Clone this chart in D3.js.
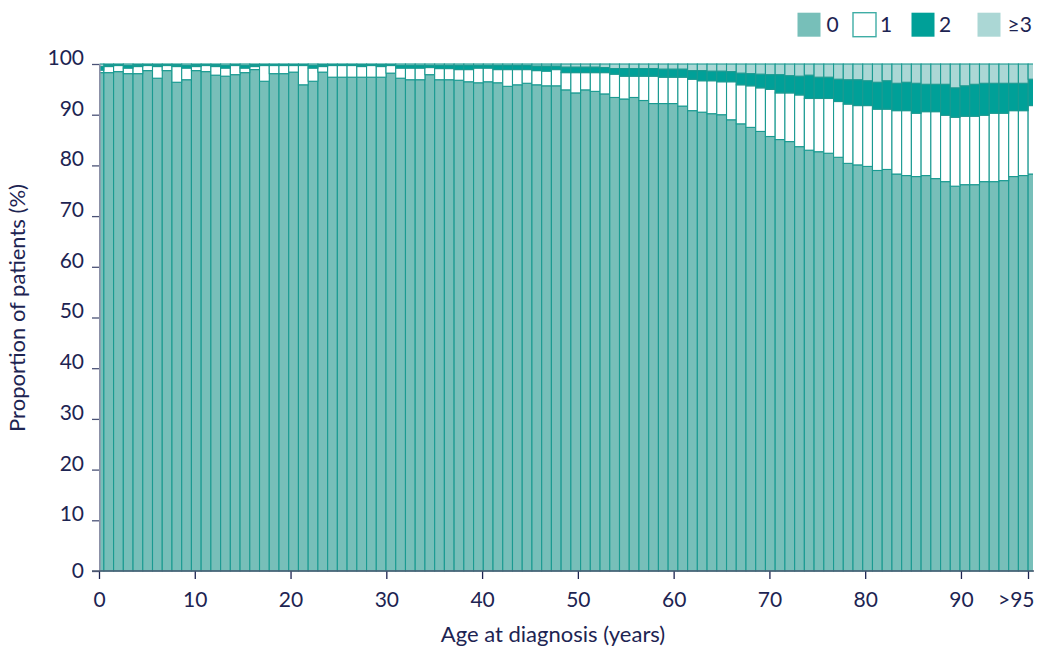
<!DOCTYPE html>
<html>
<head>
<meta charset="utf-8">
<script src="https://cdn.jsdelivr.net/npm/d3@7"></script>
<style>
  html, body { margin: 0; padding: 0; background: #ffffff; }
  svg { display: block; }
  text { font-family: "Lato", "Open Sans", sans-serif; fill: #1d2452; }
</style>
</head>
<body>
<svg id="chart" width="1047" height="647"></svg>
<script>
// ---------- data ----------
const categories = ["0","1","2","3","4","5","6","7","8","9",
  "10","11","12","13","14","15","16","17","18","19",
  "20","21","22","23","24","25","26","27","28","29",
  "30","31","32","33","34","35","36","37","38","39",
  "40","41","42","43","44","45","46","47","48","49",
  "50","51","52","53","54","55","56","57","58","59",
  "60","61","62","63","64","65","66","67","68","69",
  "70","71","72","73","74","75","76","77","78","79",
  "80","81","82","83","84","85","86","87","88","89",
  "90","91","92","93","94","95",">95"];

const seriesKeys = ["0", "1", "2", "≥3"];

const s0 = [98.3,98.3,98.5,98.1,98.1,98.7,97.2,98.7,96.4,96.9,
  98.7,98.5,97.8,97.6,97.9,98.3,98.9,96.6,98.1,98.1,
  98.4,95.9,96.6,98.4,97.4,97.4,97.4,97.4,97.4,97.4,
  98.2,97.2,96.9,96.9,97.9,96.9,96.9,96.8,96.5,96.3,
  96.5,96.3,95.6,95.9,96.2,95.9,95.7,95.7,94.9,94.3,
  94.9,94.6,94.1,93.4,93.1,93.4,92.8,92.2,92.2,92.2,
  91.7,90.8,90.5,90.2,90.0,89.0,88.2,87.5,86.7,85.7,
  85.1,84.7,83.7,83.0,82.7,82.4,81.6,80.4,80.1,79.8,
  79.0,79.2,78.3,78.0,77.8,78.0,77.4,76.8,75.9,76.2,
  76.2,76.8,76.8,77.0,77.8,78.0,78.3];

const s1 = [0.5,1.2,1.2,1.1,1.4,1.0,2.3,1.0,3.1,2.3,
  0.8,1.2,1.7,1.6,1.8,0.9,0.6,3.1,1.6,1.6,
  1.3,3.8,2.6,1.1,2.3,2.3,2.3,2.1,2.3,2.1,
  1.5,2.0,2.3,2.3,1.4,2.2,2.2,2.1,2.4,2.9,
  2.7,2.6,3.3,3.0,2.7,2.8,2.9,3.2,3.4,4.0,
  3.4,3.7,4.2,4.6,4.5,4.2,4.8,5.4,5.2,5.2,
  5.7,6.2,6.2,6.5,6.5,7.5,7.7,8.2,8.6,9.3,
  9.2,9.6,10.2,10.2,10.5,10.8,11.0,11.7,11.7,12.0,
  12.1,11.9,12.5,12.8,12.5,12.6,13.2,13.1,13.6,13.5,
  13.5,13.1,13.5,13.3,13.0,12.8,13.5];

const s2 = [0.7,0.3,0.2,0.5,0.3,0.2,0.3,0.2,0.3,0.5,
  0.3,0.2,0.3,0.5,0.2,0.5,0.3,0.2,0.2,0.2,
  0.2,0.2,0.5,0.3,0.2,0.2,0.2,0.3,0.2,0.3,
  0.2,0.5,0.5,0.5,0.4,0.6,0.6,0.8,0.8,0.5,
  0.5,0.8,0.8,0.8,0.8,0.9,1.0,0.7,1.1,1.1,
  1.1,1.1,1.0,1.1,1.5,1.5,1.5,1.5,1.6,1.6,
  1.6,1.7,2.0,1.9,2.1,2.0,2.3,2.4,2.7,2.9,
  3.6,3.4,3.7,4.6,4.2,4.2,4.4,4.8,5.1,4.9,
  5.3,5.6,5.4,5.6,5.9,5.4,5.4,6.1,5.8,6.0,
  6.3,6.3,5.9,5.9,5.4,5.4,5.2];

const s3 = [0.5,0.2,0.1,0.3,0.2,0.1,0.2,0.1,0.2,0.3,
  0.2,0.1,0.2,0.3,0.1,0.3,0.2,0.1,0.1,0.1,
  0.1,0.1,0.3,0.2,0.1,0.1,0.1,0.2,0.1,0.2,
  0.1,0.3,0.3,0.3,0.3,0.3,0.3,0.3,0.3,0.3,
  0.3,0.3,0.3,0.3,0.3,0.4,0.4,0.4,0.6,0.6,
  0.6,0.6,0.7,0.9,0.9,0.9,0.9,0.9,1.0,1.0,
  1.0,1.3,1.3,1.4,1.4,1.5,1.8,1.9,2.0,2.1,
  2.1,2.3,2.4,2.2,2.6,2.6,3.0,3.1,3.1,3.3,
  3.6,3.3,3.8,3.6,3.8,4.0,4.0,4.0,4.7,4.3,
  4.0,3.8,3.8,3.8,3.8,3.8,3.0];

const yTickValues = [0,10,20,30,40,50,60,70,80,90,100];
const xTickValues = [0,10,20,30,40,50,60,70,80,90,97];
const xTickLabels = ["0","10","20","30","40","50","60","70","80","90",">95"];

// ---------- styles ----------
const fills = {"0": "#77bfb9", "1": "#ffffff", "2": "#00a098", "≥3": "#abd7d5"};
const barStroke = "#1a9a91";

// ---------- build ----------
const svg = d3.select("#chart");
const plotLeft = 99.5, plotRight = 1033, plotTop = 64, plotBottom = 571;

const table = categories.map((c, i) => ({cat: c, "0": s0[i], "1": s1[i], "2": s2[i], "≥3": s3[i]}));
const stacked = d3.stack().keys(seriesKeys)(table);

const x = d3.scalePoint().domain(categories).range([99, 1033]);
const bw = x.step();
const xTick = d3.scaleLinear().domain([0, 97]).range([99, 1028]);
const y = d3.scaleLinear().domain([0, 100]).range([plotBottom, plotTop]);

svg.append("defs").append("clipPath").attr("id", "plotclip")
  .append("rect").attr("x", plotLeft).attr("y", 0).attr("width", plotRight - plotLeft).attr("height", 647);

const gBars = svg.append("g").attr("clip-path", "url(#plotclip)");
gBars.selectAll("g.series").data(stacked).join("g")
  .attr("class", "series")
  .attr("fill", d => fills[d.key])
  .selectAll("rect").data(d => d).join("rect")
  .attr("x", d => x(d.data.cat) - bw / 2)
  .attr("width", bw)
  .attr("y", d => y(d[1]))
  .attr("height", d => y(d[0]) - y(d[1]))
  .attr("stroke", barStroke)
  .attr("stroke-width", 1.1);

// y axis
const yAxis = svg.append("g").attr("transform", `translate(99,0)`)
  .call(d3.axisLeft(y).tickValues(yTickValues).tickSize(7).tickPadding(8).tickFormat(d3.format("d")));
yAxis.select(".domain").remove();
yAxis.selectAll(".tick line").attr("stroke", "#4a5276").attr("stroke-width", 1.3);
yAxis.selectAll(".tick text")
  .attr("dy", d => d === 0 ? "0.32em" : "0.02em")
  .style("font-size", "21px").style("font-family", "Lato").attr("fill", "#1d2452");
svg.append("line").attr("x1", 99.8).attr("x2", 99.8).attr("y1", plotTop).attr("y2", plotBottom)
  .attr("stroke", "#8b90a7").attr("stroke-width", 1.6);

// x axis
const xAxis = svg.append("g").attr("transform", `translate(0,${plotBottom})`)
  .call(d3.axisBottom(xTick).tickValues(xTickValues).tickSize(8).tickPadding(13)
    .tickFormat((d, i) => xTickLabels[i]));
xAxis.select(".domain").remove();
xAxis.selectAll(".tick line").attr("stroke", "#1d2452").attr("stroke-width", 1.3);
xAxis.selectAll(".tick text")
  .style("font-size", "21px").style("font-family", "Lato").attr("fill", "#1d2452")
  .filter(d => d === 97).attr("text-anchor", "end").attr("dx", 6);
svg.append("line").attr("x1", 92).attr("x2", 1034).attr("y1", plotBottom).attr("y2", plotBottom)
  .attr("stroke", "#4e5a72").attr("stroke-width", 1.6);

// axis titles
svg.append("text").attr("transform", "translate(25,308) rotate(-90)")
  .attr("text-anchor", "middle").style("font-size", "22px")
  .text("Proportion of patients (%)");
svg.append("text").attr("x", 553).attr("y", 642)
  .attr("text-anchor", "middle").style("font-size", "22px")
  .text("Age at diagnosis (years)");

// legend
const legendPos = [{key: "0", bx: 797.5, tx: 826.5}, {key: "1", bx: 853, tx: 880},
                   {key: "2", bx: 911.5, tx: 939}, {key: "≥3", bx: 977.5, tx: 1007.5}];
const lg = svg.append("g");
lg.selectAll("rect").data(legendPos).join("rect")
  .attr("x", d => d.bx).attr("y", 12.7).attr("width", 23).attr("height", 24)
  .attr("fill", d => fills[d.key])
  .attr("stroke", d => d.key === "1" ? "#3fada5" : "none").attr("stroke-width", 1.4);
lg.selectAll("text").data(legendPos).join("text")
  .attr("x", d => d.tx).attr("y", 32).style("font-size", "21px")
  .text(d => d.key);
</script>
</body>
</html>
